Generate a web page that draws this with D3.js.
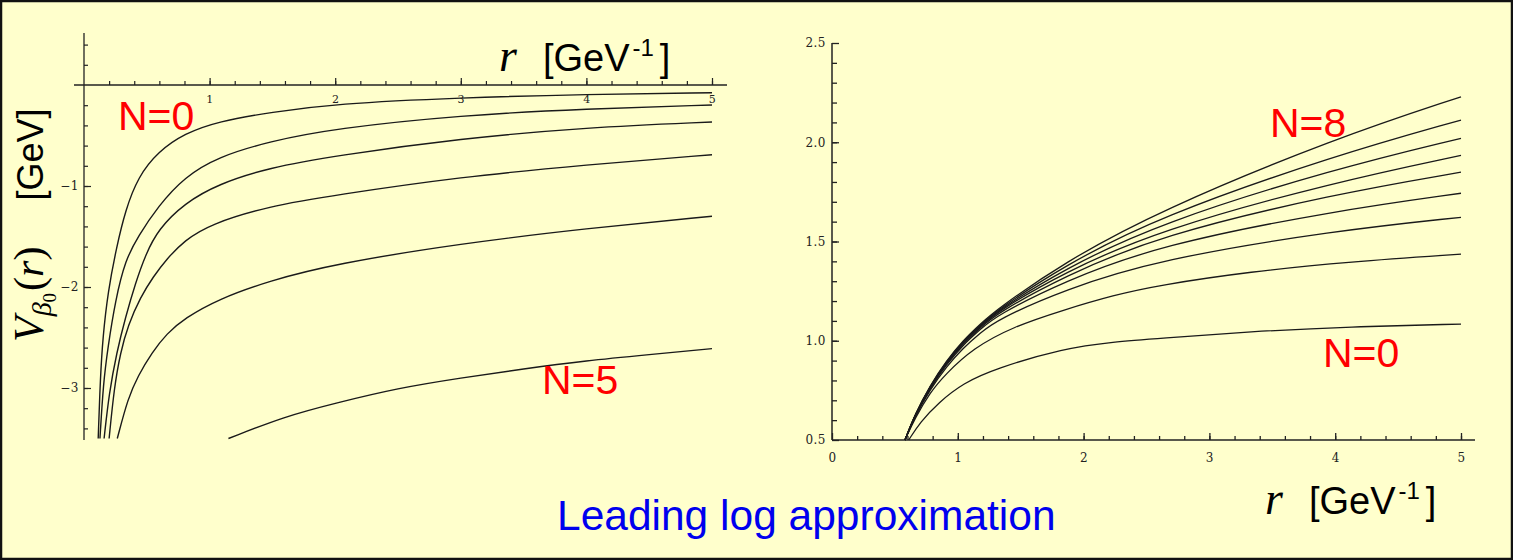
<!DOCTYPE html>
<meta charset="utf-8">
<script src="https://d3js.org/d3.v7.min.js"></script>
<style>
    body { margin: 0; background: #ffffcc; }
    .tick text { font-family: "DejaVu Serif", serif; font-size: 12px; fill: #222; letter-spacing: 0.5px; }
</style>
<body>
<div id="my_dataviz"></div>
</body>
<script>
    // ---- left panel: V(r) for N = 0..5, [r, V] pairs
    const leftN0 = [[0.113, -3.5], [0.13, -2.9], [0.15, -2.5], [0.19, -2.05], [0.26, -1.6], [0.33, -1.24], [0.43, -0.91],
        [0.59, -0.66], [0.8, -0.48], [1.07, -0.36], [1.49, -0.27], [2.0, -0.185], [3.0, -0.125], [4.0, -0.092], [5.0, -0.076]];
    const leftN1 = [[0.127, -3.5], [0.154, -2.95], [0.19, -2.6], [0.25, -2.13], [0.33, -1.73], [0.43, -1.5], [0.59, -1.2],
        [0.8, -0.91], [1.07, -0.71], [1.47, -0.56], [2.0, -0.43], [3.0, -0.3], [4.0, -0.235], [5.0, -0.198]];
    const leftN2 = [[0.16, -3.5], [0.2, -3.05], [0.26, -2.65], [0.33, -2.3], [0.41, -1.96], [0.49, -1.68], [0.59, -1.43],
        [0.8, -1.17], [1.07, -0.98], [1.47, -0.82], [2.0, -0.7], [3.0, -0.53], [4.0, -0.42], [5.0, -0.366]];
    const leftN3 = [[0.2, -3.5], [0.24, -3.0], [0.29, -2.65], [0.35, -2.38], [0.45, -2.1], [0.55, -1.9], [0.66, -1.72],
        [0.8, -1.54], [1.0, -1.38], [1.47, -1.2], [2.0, -1.09], [3.0, -0.91], [4.0, -0.79], [5.0, -0.69]];
    const leftN4 = [[0.265, -3.5], [0.35, -3.1], [0.43, -2.88], [0.54, -2.65], [0.66, -2.46], [0.8, -2.31], [1.07, -2.12],
        [1.47, -1.94], [2.0, -1.77], [3.0, -1.57], [4.0, -1.42], [5.0, -1.3]];
    const leftN5 = [[1.15, -3.5], [1.6, -3.28], [2.0, -3.15], [2.5, -3.0], [3.0, -2.9], [3.5, -2.81], [4.0, -2.73],
        [4.5, -2.67], [5.0, -2.61]];
    const leftSeries = [leftN0, leftN1, leftN2, leftN3, leftN4, leftN5];

    // ---- right panel: N = 0..8, bottom to top
    const rightN0 = [[0.61, 0.5], [0.7, 0.59], [0.85, 0.69], [1.04, 0.786], [1.3, 0.86], [1.84, 0.962], [2.24, 0.995],
        [2.6, 1.012], [3.32, 1.046], [4.12, 1.071], [5.0, 1.084]];
    const rightN1 = [[0.58, 0.5], [0.66, 0.61], [0.78, 0.74], [0.9, 0.83], [1.12, 0.962], [1.44, 1.071], [1.84, 1.155],
        [2.24, 1.23], [2.6, 1.28], [3.32, 1.348], [4.12, 1.398], [5.0, 1.436]];
    const rightN2 = [[0.58, 0.5], [0.66, 0.62], [0.78, 0.755], [0.91, 0.87], [1.04, 0.962], [1.18, 1.04], [1.31, 1.105],
        [1.84, 1.256], [2.6, 1.41], [4.0, 1.555], [5.0, 1.622]];
    const rightN3 = [[0.58, 0.5], [0.66, 0.624], [0.78, 0.762], [0.91, 0.881], [1.04, 0.978], [1.18, 1.058], [1.31, 1.128],
        [1.84, 1.298], [2.6, 1.482], [4.0, 1.655], [5.0, 1.743]];
    const rightN4 = [[0.58, 0.5], [0.66, 0.626], [0.78, 0.766], [0.91, 0.887], [1.04, 0.985], [1.18, 1.066], [1.31, 1.138],
        [1.84, 1.323], [2.6, 1.53], [4.0, 1.74], [5.0, 1.849]];
    const rightN5 = [[0.58, 0.5], [0.66, 0.627], [0.78, 0.769], [0.91, 0.891], [1.04, 0.99], [1.18, 1.072], [1.31, 1.145],
        [1.84, 1.343], [2.6, 1.558], [4.0, 1.8], [5.0, 1.934]];
    const rightN6 = [[0.58, 0.5], [0.66, 0.628], [0.78, 0.771], [0.91, 0.894], [1.04, 0.993], [1.18, 1.076], [1.31, 1.149],
        [1.84, 1.36], [2.6, 1.592], [4.0, 1.867], [5.0, 2.02]];
    const rightN7 = [[0.58, 0.5], [0.66, 0.629], [0.78, 0.773], [0.91, 0.897], [1.04, 0.996], [1.18, 1.08], [1.31, 1.153],
        [1.84, 1.377], [2.6, 1.625], [4.0, 1.934], [5.0, 2.112]];
    const rightN8 = [[0.58, 0.5], [0.66, 0.63], [0.78, 0.775], [0.91, 0.9], [1.04, 1.0], [1.18, 1.085], [1.31, 1.158],
        [1.84, 1.393], [2.6, 1.655], [4.0, 2.02], [5.0, 2.229]];
    const rightSeries = [rightN0, rightN1, rightN2, rightN3, rightN4, rightN5, rightN6, rightN7, rightN8];

    // tick values
    const leftXTicks = [1, 2, 3, 4, 5];
    const leftYTicks = [-1, -2, -3];
    const rightXTicks = [0, 1, 2, 3, 4, 5];
    const rightYTicks = [0.5, 1.0, 1.5, 2.0, 2.5];

    const W = 1513, H = 560;

    var svg = d3.select("#my_dataviz")
        .append("svg")
        .attr("width", W)
        .attr("height", H);

    svg.append("rect")
        .attr("x", 1).attr("y", 1)
        .attr("width", W - 2).attr("height", H - 2)
        .style("fill", "#ffffcc")
        .style("stroke", "#111")
        .style("stroke-width", 2.5);

    // ---------------- left panel ----------------
    var xL = d3.scaleLinear().domain([0, 5]).range([84, 712]);
    var yL = d3.scaleLinear().domain([-3.5, 0.5]).range([438.5, 34.5]);

    var left = svg.append("g");

    left.append("line")
        .attr("x1", 74).attr("x2", 727)
        .attr("y1", yL(0)).attr("y2", yL(0))
        .style("stroke", "#222").style("stroke-width", 1.3);
    left.append("line")
        .attr("x1", xL(0)).attr("x2", xL(0))
        .attr("y1", 33).attr("y2", 440)
        .style("stroke", "#222").style("stroke-width", 1.3);

    // minor ticks
    left.append("g")
        .attr("transform", "translate(0," + yL(0) + ")")
        .call(d3.axisBottom(xL).tickValues(d3.range(1, 26).map(d => d / 5)).tickSize(-4).tickFormat(""))
        .call(g => g.select(".domain").remove());
    left.append("g")
        .attr("transform", "translate(" + xL(0) + ",0)")
        .call(d3.axisLeft(yL).tickValues(d3.range(-17, 3).filter(d => d !== 0).map(d => d / 5)).tickSize(-4).tickFormat(""))
        .call(g => g.select(".domain").remove());

    // major ticks + labels
    left.append("g")
        .attr("transform", "translate(0," + yL(0) + ")")
        .call(d3.axisBottom(xL).tickValues(leftXTicks).tickSize(-7).tickFormat(d3.format("d")))
        .call(g => g.select(".domain").remove())
        .call(g => g.selectAll("text").attr("y", 10).style("font-size", "11px"));
    left.append("g")
        .attr("transform", "translate(" + xL(0) + ",0)")
        .call(d3.axisLeft(yL).tickValues(leftYTicks).tickSize(-7).tickFormat(d3.format("d")))
        .call(g => g.select(".domain").remove())
        .call(g => g.selectAll("text").attr("x", -5));
    left.selectAll(".tick line").style("stroke", "#222").style("stroke-width", 1.2);

    var lineL = d3.line()
        .x(d => xL(d[0]))
        .y(d => yL(d[1]))
        .curve(d3.curveBasis);

    left.selectAll(".curve")
        .data(leftSeries)
        .enter()
        .append("path")
        .attr("class", "curve")
        .attr("d", lineL)
        .style("fill", "none")
        .style("stroke", "#1a1a1a")
        .style("stroke-width", 1.4);

    // ---------------- right panel ----------------
    var xR = d3.scaleLinear().domain([0, 5]).range([832, 1461]);
    var yR = d3.scaleLinear().domain([0.5, 2.5]).range([440, 43]);

    var right = svg.append("g");

    right.append("line")
        .attr("x1", xR(0)).attr("x2", 1475)
        .attr("y1", yR(0.5)).attr("y2", yR(0.5))
        .style("stroke", "#222").style("stroke-width", 1.5);
    right.append("line")
        .attr("x1", xR(0)).attr("x2", xR(0))
        .attr("y1", yR(2.5)).attr("y2", yR(0.5))
        .style("stroke", "#222").style("stroke-width", 1.5);

    right.append("g")
        .attr("transform", "translate(0," + yR(0.5) + ")")
        .call(d3.axisBottom(xR).tickValues(d3.range(1, 26).map(d => d / 5)).tickSize(-4).tickFormat(""))
        .call(g => g.select(".domain").remove());
    right.append("g")
        .attr("transform", "translate(" + xR(0) + ",0)")
        .call(d3.axisLeft(yR).tickValues(d3.range(6, 25).map(d => d / 10)).tickSize(-5).tickFormat(""))
        .call(g => g.select(".domain").remove());

    right.append("g")
        .attr("transform", "translate(0," + yR(0.5) + ")")
        .call(d3.axisBottom(xR).tickValues(rightXTicks).tickSize(-7).tickFormat(d3.format("d")))
        .call(g => g.select(".domain").remove())
        .call(g => g.selectAll("text").attr("y", 13));
    right.append("g")
        .attr("transform", "translate(" + xR(0) + ",0)")
        .call(d3.axisLeft(yR).tickValues(rightYTicks).tickSize(-7).tickFormat(d3.format(".1f")))
        .call(g => g.select(".domain").remove())
        .call(g => g.selectAll("text").attr("x", -6));
    right.selectAll(".tick line").style("stroke", "#222").style("stroke-width", 1.3);

    var lineR = d3.line()
        .x(d => xR(d[0]))
        .y(d => yR(d[1]))
        .curve(d3.curveBasis);

    right.selectAll(".curve")
        .data(rightSeries)
        .enter()
        .append("path")
        .attr("class", "curve")
        .attr("d", lineR)
        .style("fill", "none")
        .style("stroke", "#1a1a1a")
        .style("stroke-width", 1.3);

    // ---------------- axis titles ----------------
    function rLabel(x, y) {
        var t = svg.append("text")
            .attr("x", x).attr("y", y)
            .style("fill", "#000");
        t.append("tspan")
            .style("font-family", "Liberation Serif, serif")
            .style("font-style", "italic")
            .style("font-size", "46px")
            .text("r");
        t.append("tspan")
            .attr("dx", 26)
            .style("font-family", "Liberation Sans, Arial, sans-serif")
            .style("font-size", "38px")
            .text("[GeV");
        t.append("tspan")
            .attr("dy", -15).attr("dx", 3)
            .style("font-family", "Liberation Sans, Arial, sans-serif")
            .style("font-size", "24px")
            .text("-1");
        t.append("tspan")
            .attr("dy", 15)
            .attr("dx", 6)
            .style("font-family", "Liberation Sans, Arial, sans-serif")
            .style("font-size", "38px")
            .text("]");
    }
    rLabel(499, 71);
    rLabel(1265, 514);

    // rotated y title on the left panel
    var yt = svg.append("text")
        .attr("transform", "translate(43,342) rotate(-90)")
        .style("fill", "#000");
    yt.append("tspan")
        .style("font-family", "Liberation Serif, serif").style("font-style", "italic").style("font-size", "42px")
        .text("V");
    yt.append("tspan")
        .attr("dy", 8)
        .style("font-family", "Liberation Serif, serif").style("font-style", "italic").style("font-size", "28px")
        .text("β");
    yt.append("tspan")
        .attr("dy", 5)
        .style("font-family", "Liberation Serif, serif").style("font-size", "19px")
        .text("0");
    yt.append("tspan")
        .attr("dy", -13).attr("dx", 2)
        .style("font-family", "Liberation Serif, serif").style("font-size", "42px")
        .text("(");
    yt.append("tspan")
        .style("font-family", "Liberation Serif, serif").style("font-style", "italic").style("font-size", "42px")
        .text("r");
    yt.append("tspan")
        .style("font-family", "Liberation Serif, serif").style("font-size", "42px")
        .text(")");
    yt.append("tspan")
        .attr("dx", 46)
        .style("font-family", "Liberation Sans, Arial, sans-serif").style("font-size", "36px")
        .text("[GeV]");

    // ---------------- annotations ----------------
    const redLabels = [
        {text: "N=0", x: 118, y: 130},
        {text: "N=5", x: 542, y: 394},
        {text: "N=8", x: 1270, y: 137},
        {text: "N=0", x: 1323, y: 367}
    ];
    svg.selectAll(".nlab")
        .data(redLabels)
        .enter()
        .append("text")
        .attr("class", "nlab")
        .attr("x", d => d.x)
        .attr("y", d => d.y)
        .style("font-family", "Liberation Sans, Arial, sans-serif")
        .style("font-size", "41px")
        .style("fill", "#ff0000")
        .text(d => d.text);

    svg.append("text")
        .attr("x", 557)
        .attr("y", 530)
        .style("font-family", "Liberation Sans, Arial, sans-serif")
        .style("font-size", "42.5px")
        .style("fill", "#0000ee")
        .text("Leading log approximation");
</script>
</html>
